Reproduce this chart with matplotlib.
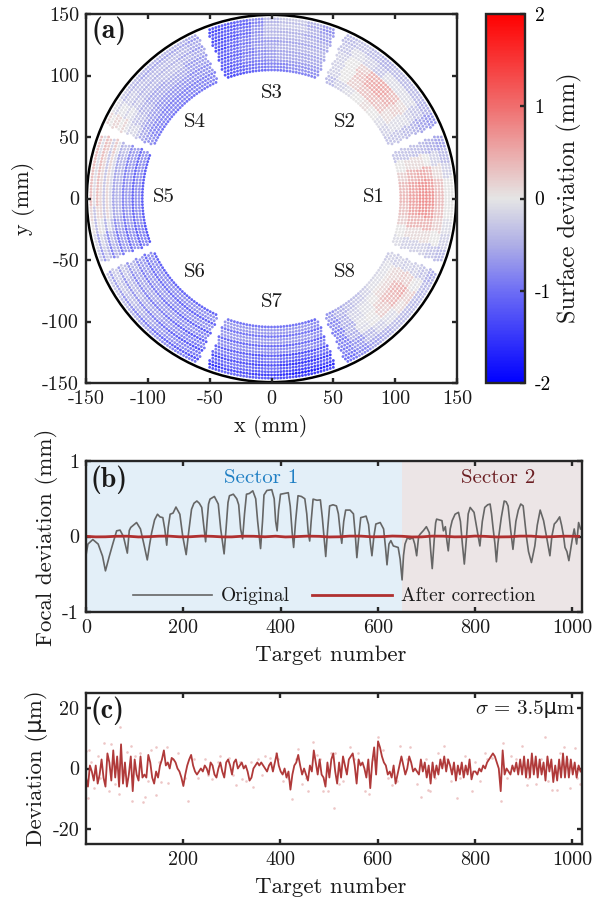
#!/usr/bin/env python3
"""Three panel figure: surface deviation map, focal deviation, residual deviation."""

import matplotlib
matplotlib.use("Agg")
import matplotlib.pyplot as plt
import numpy as np
from matplotlib.colors import LinearSegmentedColormap, Normalize
from matplotlib.cm import ScalarMappable

# panel (a): surface deviation read per sector, rows inner -> outer, columns counter-clockwise
s1 = [[-0.1, 0.0, 0.2, 0.3, 0.4, 0.35, 0.2, 0.0, -0.3],
      [-0.2, 0.1, 0.4, 0.55, 0.6, 0.55, 0.4, 0.1, -0.3],
      [-0.2, 0.1, 0.4, 0.7, 0.75, 0.7, 0.5, 0.1, -0.35],
      [-0.2, 0.1, 0.4, 0.6, 0.7, 0.6, 0.4, 0.0, -0.4],
      [-0.3, 0.0, 0.2, 0.3, 0.35, 0.3, 0.1, -0.2, -0.5],
      [-0.4, -0.2, -0.1, 0.0, 0.0, 0.0, -0.2, -0.4, -0.6]]
s2 = [[-0.3, -0.2, -0.1, 0.0, 0.1, 0.0, -0.1, -0.2, -0.4],
      [-0.3, -0.1, 0.1, 0.3, 0.35, 0.3, 0.2, 0.0, -0.2],
      [-0.4, -0.1, 0.2, 0.45, 0.55, 0.5, 0.3, 0.0, -0.2],
      [-0.5, -0.2, 0.1, 0.35, 0.5, 0.45, 0.2, 0.0, -0.2],
      [-0.6, -0.3, -0.1, -0.1, -0.1, -0.3, -0.2, -0.1, -0.3],
      [-0.7, -0.5, -0.4, -0.4, -0.4, -0.5, -0.4, -0.3, -0.4]]
s3 = [[-0.8, -0.8, -0.8, -0.9, -0.9, -1.0, -1.1, -1.2, -1.3],
      [-0.6, -0.6, -0.6, -0.6, -0.7, -0.8, -0.9, -1.1, -1.2],
      [-0.5, -0.5, -0.5, -0.5, -0.6, -0.7, -0.9, -1.1, -1.2],
      [-0.5, -0.5, -0.5, -0.5, -0.6, -0.7, -0.9, -1.1, -1.3],
      [-0.6, -0.5, -0.4, -0.4, -0.4, -0.7, -1.0, -1.2, -1.3],
      [-0.7, -0.5, -0.3, -0.3, -0.4, -0.8, -1.1, -1.2, -1.3]]
s4 = [[-0.9, -0.9, -0.9, -0.9, -0.9, -0.9, -0.9, -0.9, -0.8],
      [-0.8, -0.8, -0.8, -0.8, -0.8, -0.8, -0.7, -0.7, -0.6],
      [-0.7, -0.7, -0.6, -0.6, -0.6, -0.6, -0.5, -0.4, -0.2],
      [-0.6, -0.6, -0.4, -0.4, -0.5, -0.5, -0.4, -0.2, -0.1],
      [-0.6, -0.5, -0.4, -0.4, -0.4, -0.4, -0.3, -0.1, 0.1],
      [-0.6, -0.5, -0.5, -0.5, -0.5, -0.4, -0.3, -0.1, 0.1]]
s5 = [[-0.9, -0.9, -0.9, -0.9, -0.9, -0.9, -0.9, -1.0, -1.0],
      [-0.8, -0.8, -0.8, -0.8, -0.8, -0.8, -0.8, -0.9, -0.9],
      [-0.5, -0.6, -0.6, -0.6, -0.6, -0.6, -0.7, -0.8, -0.8],
      [-0.2, -0.3, -0.3, -0.3, -0.3, -0.3, -0.5, -0.7, -0.7],
      [0.1, 0.0, 0.0, 0.0, 0.0, 0.0, -0.2, -0.5, -0.6],
      [0.2, 0.2, 0.2, 0.2, 0.2, 0.0, -0.1, -0.3, -0.4]]
s6 = [[-0.9, -0.9, -0.9, -0.9, -0.9, -0.9, -0.9, -0.9, -0.9],
      [-0.8, -0.8, -0.8, -0.8, -0.8, -0.9, -0.9, -0.9, -0.9],
      [-0.6, -0.7, -0.7, -0.7, -0.8, -0.8, -0.9, -0.9, -1.0],
      [-0.5, -0.6, -0.6, -0.7, -0.7, -0.8, -0.9, -1.0, -1.0],
      [-0.4, -0.5, -0.5, -0.6, -0.7, -0.8, -0.9, -1.0, -1.1],
      [-0.4, -0.4, -0.5, -0.6, -0.7, -0.8, -0.9, -1.0, -1.1]]
s7 = [[-0.8, -0.8, -0.8, -0.8, -0.8, -0.8, -0.8, -0.8, -0.9],
      [-0.8, -0.8, -0.8, -0.8, -0.8, -0.8, -0.8, -0.8, -0.9],
      [-0.9, -0.9, -0.9, -0.9, -0.9, -0.9, -0.9, -0.9, -1.0],
      [-1.0, -1.0, -1.0, -1.1, -1.0, -1.1, -1.2, -1.2, -1.1],
      [-1.2, -1.1, -1.1, -1.2, -1.1, -1.3, -1.4, -1.4, -1.3],
      [-1.4, -1.2, -1.2, -1.3, -1.3, -1.4, -1.6, -1.6, -1.5]]
s8 = [[-0.7, -0.5, -0.4, -0.3, -0.2, -0.1, -0.1, -0.1, -0.2],
      [-0.8, -0.5, -0.2, -0.1, 0.0, 0.1, 0.1, 0.1, -0.2],
      [-0.9, -0.5, -0.1, 0.0, 0.2, 0.35, 0.4, 0.2, -0.2],
      [-0.9, -0.5, -0.1, 0.0, 0.2, 0.4, 0.5, 0.2, -0.2],
      [-0.9, -0.7, -0.4, -0.2, -0.1, 0.1, 0.2, 0.0, -0.3],
      [-1.0, -0.8, -0.6, -0.5, -0.4, -0.4, -0.4, -0.4, -0.5]]
sector_tables = [s1, s2, s3, s4, s5, s6, s7, s8]
sector_angles = [0, 45, 90, 135, 180, 225, 270, 315]
sector_stripes = [0.0, 0.0, 0.08, 0.1, 0.3, 0.25, 0.2, 0.05]
sector_names = ["S1", "S2", "S3", "S4", "S5", "S6", "S7", "S8"]
name_x = [83, 59, 0, -62, -87, -62, 0, 59]
name_y = [1, 62, 86, 62, 1, -60, -84, -60]

# panel (b): original focal deviation
orig_x = [0, 4, 14, 25, 34, 40, 48, 55, 63, 70, 77, 85, 89, 92, 104, 112, 119, 126, 131, 135,
          141, 147, 152, 158, 162, 166, 169, 173, 179, 185, 193, 199, 206, 211, 217, 222, 228, 233, 238, 242,
          246, 249, 252, 255, 264, 272, 277, 284, 288, 292, 295, 303, 310, 314, 318, 322, 326, 330, 336, 343,
          349, 353, 359, 363, 366, 372, 382, 387, 390, 393, 396, 400, 408, 416, 420, 424, 427, 431, 436, 443,
          450, 454, 457, 460, 463, 467, 475, 482, 486, 490, 493, 497, 501, 508, 515, 519, 523, 526, 530, 534,
          543, 550, 554, 557, 561, 565, 571, 576, 581, 585, 588, 592, 596, 605, 612, 616, 619, 623, 627, 632,
          642, 646, 650, 653, 656, 661, 666, 672, 676, 680, 684, 687, 694, 700, 706, 709, 712, 716, 719, 721,
          732, 735, 739, 742, 745, 749, 753, 759, 766, 770, 774, 778, 782, 786, 790, 798, 804, 810, 815, 820,
          826, 831, 834, 837, 841, 844, 847, 849, 854, 860, 864, 868, 873, 878, 884, 889, 894, 899, 906, 910,
          916, 919, 923, 928, 934, 941, 947, 954, 958, 963, 968, 974, 978, 982, 985, 989, 993, 1000, 1004, 1009,
          1013, 1017]
orig_y = [-.25, -.10, -.04, -.10, -.26, -.455, -.26, -.10, .075, .085, 0, -.22, .08, .12, .185, .10, -.1, -.31, -.1, .05,
          .22, .295, .26, .25, .1, -.115, .12, .295, .31, .39, .295, 0, -.24, .05, .36, .44, .47, .44, .385, .15,
          -.07, .2, .43, .495, .53, .43, .1, -.23, .1, .45, .54, .56, .5, .42, .1, -.03, .3, .56, .57, .605,
          .5, .2, -.16, .2, .55, .61, .62, .5, .2, .075, .35, .56, .57, .58, .4, .05, -.145, .2, .54, .53,
          .5, .3, .05, -.06, .2, .495, .48, .485, .25, -.05, -.265, .1, .405, .42, .405, .3, .05, -.09, .2, .35,
          .35, .3, 0, -.28, 0, .25, .26, .27, .16, -.1, -.255, 0, .165, .185, .1, -.15, -.375, -.1, -.055, -.125,
          -.145, -.3, -.575, -.25, -.1, -.015, -.035, -.015, -.1, -.255, 0, .03, .08, .13, .05, -.2, -.425, -.05, .18, .23,
          .21, .075, .13, -.05, -.19, .1, .21, .295, .32, .2, -.1, -.365, -.05, .3, .385, .32, .1, -.125, .2, .385,
          .42, .43, .3, .12, -.1, -.335, -.1, .01, .25, .47, .46, .405, .1, -.17, .2, .35, .43, .405, -.015, -.2,
          -.345, -.25, -.125, .15, .35, .21, 0, -.255, 0, .165, .2, .26, .15, .01, -.145, -.2, -.32, -.035, .1, -.1,
          .185, .1]
# panel (b): after correction
corr_x = [0, 20, 40, 62, 85, 108, 130, 150, 170, 192, 215, 238, 260, 280, 300, 322, 345, 368, 390, 410, 430, 455,
          480, 500, 520, 542, 565, 588, 610, 630, 650, 670, 690, 712, 735, 758, 780, 800, 820, 845, 870, 892, 915, 938, 960, 985, 1013]
corr_y = [.002, -.005, -.004, .003, .004, -.006, -.002, .004, .005, -.004, -.003, .006, .002, -.005, -.005, .004, .003, -.004, .004, -.006, -.002, .005,
          .002, -.006, -.004, .005, .005, -.004, -.002, .006, .003, -.006, -.005, .005, .004, -.005, -.003, .006, .002, -.006, -.004, .005, .005, -.005, -.002, .004, .002]

# panel (c): deviation after correction, one reading every four targets from target 1
dev_target = list(range(1, 1021, 4))
dev_um = [-3, -6, 1, -1, -4, 1, -5, -2, 3, -3,
          -6, 5, 2, -4, 6, -3, 4, -6, 8, -5,
          2, -6, -2, 4, -7.5, 3, -2, -4, 4, -3,
          -2, -3, 4.5, 2, -3, -5, -1, -3, 1, 3,
          6, 1, 2, 0, 3.5, 3, 2, 0, -1, -3,
          -5.8, -2, 1, 3, 4.5, 1, -1, -2, -1, 0,
          -1, 1, 0, -2, 2, 1, -2, -3, 0, 2,
          -1, -3, 2, 3, 1, -2, 2, 3, 0, 1,
          2, 0, 1, -1, -4, -3, 0, 1, 2, 1,
          2, 1, 0, -1, 1, 2, -1, 2, 5, 1,
          -1, -2, 0, -3, -1, -7, -2, 1, 2, 4.5,
          1, -2, 0, -2, -4, 1, -1, 6, 2, -2,
          3, -2, -3, -6, 2, -3, 3, 5, -1, -5,
          2, -3, 4, 1, -2, 3, 4, 5, 1, -5,
          3, 1, 2, 0, -3, 3, -6.5, 2, 7, -2,
          9, 7, 4, 2, 1, -2, -1, -3, 1, -5,
          -2, 1, 4, 1, -2, 0, 4, 2, -1, 0,
          -1, -2, 3, -1, 2, -3, 1, -5, 2, -3,
          1, -2, 3, 0, 4, -1, 3, 1, -2, 2,
          -4, 1, -2, 2, -3, 1, -2, 3, -3.6, -1,
          -1, -2, 0, -1, 1, 0, 2, 3, 4, 5,
          4, 2, 0, -7.5, 6, -2, 0, -1, -2, 1,
          -1, 2, -2, 3, -2, 4, -3, 3, -3, 5,
          -2, 4, -3, 3, -2, 2, -4, 4, -1, 3,
          -4.5, 1, -4, 3, -3, 5, -3, 4, -3, 3,
          -2, 2, -3, 1, -1]
raw_x = [1, 7, 5, 18, 39, 53, 48, 70, 68, 94, 96, 111, 118, 123, 144, 144, 167, 170, 211, 231,
         276, 310, 322, 344, 368, 391, 425, 437, 457, 467, 488, 510, 499, 505, 512, 543, 574, 583, 601, 647,
         629, 666, 689, 707, 703, 736, 763, 793, 820, 857, 854, 896, 943, 968, 958, 984, 996, 1006, 906,
         25, 60, 85, 135, 155, 190, 245, 260, 295, 330, 355, 380, 405, 445, 475, 520, 560, 612, 680, 725,
         750, 780, 810, 835, 875, 925, 975, 1015,
         12, 30, 44, 76, 102, 128, 150, 178, 205, 222, 252, 272, 302, 318, 340, 362, 396, 415, 432, 452,
         482, 530, 552, 590, 622, 640, 660, 700, 718, 742, 770, 800, 825, 865, 885, 910, 935, 950, 990, 1010]
raw_y = [5.7, 6, -9.7, -6.4, 8.5, 8, -7.3, 13.7, -8.6, 7.4, -10.8, 5.2, -11, -9.5, 7, -8.8, 7.2, -4.8, -10.7, -3,
         4, -5.3, -3.6, -6, 4, 5, -10, 6.3, -7.5, 8.8, -7.3, -13.2, -7.3, 5, 5, 7, -7.3, -8.3, 10.4, 7.4,
         -5.6, 7, -9.5, -7.3, -7, 7.4, -9.7, -7.5, 5, 8.5, -10.8, 7.4, 10.4, -7, -7, 7, -6.4, 6.8, -5.3,
         4, -5, 5.5, 6, -4.5, 5, 3, -3.5, 3.5, -4, 3, 3.5, -4, -5, 4.5, -5, 5, 6, -5, 5,
         -4, 4, -4, 3.5, 4, -5, 5, -5,
         2, -3, 3, -2, 4, -4, 2, 3, -3, 3, -2, 2, -2, 2, 2, -2, 3, -3, 3, -3,
         3, -4, 3, 3, -3, -4, 3, 3, -3, 3, -3, 2, 3, -3, 3, -3, 3, -4, 3, -3]

PX = 0.01  # figure is 6.07 x 9.01 in at dpi 100
FW, FH = 607, 901
FRAME = "#262626"
TEXT = "#1a1a1a"

plt.rcParams["font.family"] = ["cmr10", "DejaVu Sans"]
plt.rcParams["mathtext.fontset"] = "cm"
plt.rcParams["axes.formatter.use_mathtext"] = True
plt.rcParams["text.color"] = TEXT
plt.rcParams["axes.unicode_minus"] = False


def add_axes(fig, left, top, right, bottom):
    return fig.add_axes([left / FW, 1 - bottom / FH, (right - left) / FW, (bottom - top) / FH])


def style(ax):
    for sp in ax.spines.values():
        sp.set_linewidth(1.7)
        sp.set_color(FRAME)
    ax.tick_params(direction="in", length=3.5, width=1.7, color=FRAME, labelsize=14.5,
                   top=True, right=True, pad=5, labelcolor=TEXT)


def sector_points(table, centre, stripe):
    """Dots on a local grid: constant offset across the sector, concentric arcs along it."""
    table = np.array(table)
    xs, ys, vals = [], [], []
    half = 21.0
    for i, r in enumerate(np.arange(104.5, 146.5, 2.6)):
        for u in np.arange(-60, 60.1, 2.5):
            if abs(u) >= r:
                continue
            ang = np.degrees(np.arcsin(u / r))
            if abs(ang) > half:
                continue
            row = min(int((r - 104.5) / 42 * table.shape[0]), table.shape[0] - 1)
            col = min(int((ang + half) / (2 * half) * table.shape[1]), table.shape[1] - 1)
            v = table[row, col] + (-stripe if i % 3 == 0 else stripe / 2)
            c = np.radians(centre)
            lx, ly = np.sqrt(r * r - u * u), u
            xs.append(lx * np.cos(c) - ly * np.sin(c))
            ys.append(lx * np.sin(c) + ly * np.cos(c))
            vals.append(v)
    return xs, ys, vals


fig = plt.figure(figsize=(FW * PX, FH * PX), dpi=100)

cmap = LinearSegmentedColormap.from_list("dev", [
    (0.0, "#0000ff"), (0.25, "#6e6ef5"), (0.375, "#aeaee6"), (0.5, "#e5e5e5"),
    (0.625, "#ebaaaa"), (0.75, "#f06e6e"), (1.0, "#ff0000")])
norm = Normalize(-2, 2)

# panel (a)
ax = add_axes(fig, 86, 14, 457, 383)
for table, centre, stripe in zip(sector_tables, sector_angles, sector_stripes):
    xs, ys, vals = sector_points(table, centre, stripe)
    ax.scatter(xs, ys, c=vals, cmap=cmap, norm=norm, s=4.2, linewidths=0, alpha=0.95)
ax.add_patch(plt.Circle((0, 0), 149.3, fill=False, color="black", lw=1.8))
for name, x, y in zip(sector_names, name_x, name_y):
    ax.text(x, y, name, ha="center", va="center", fontsize=15)
ax.set_xlim(-150, 150)
ax.set_ylim(-150, 150)
ticks = [-150, -100, -50, 0, 50, 100, 150]
ax.set_xticks(ticks, [str(t) for t in ticks])
ax.set_yticks(ticks, [str(t) for t in ticks])
style(ax)
ax.text(0.0135, 0.955, "(a)", transform=ax.transAxes, family="cmb10", fontsize=20, va="center")
fig.text(271 / FW, 1 - 426 / FH, "x (mm)", ha="center", va="center", fontsize=16)
fig.text(24 / FW, 1 - 198 / FH, "y (mm)", ha="center", va="center", rotation=90, fontsize=16)

# colour bar
cax = add_axes(fig, 486, 14, 525, 383)
cb = fig.colorbar(ScalarMappable(norm=norm, cmap=cmap), cax=cax)
cb.set_ticks([-2, -1, 0, 1, 2], labels=["-2", "-1", "0", "1", "2"])
cb.ax.tick_params(direction="in", length=3.5, width=1.7, color=FRAME, labelsize=14, pad=7)
cb.outline.set_linewidth(1.7)
cb.outline.set_edgecolor(FRAME)
fig.text(569 / FW, 1 - 198 / FH, "Surface deviation (mm)", ha="center", va="center", rotation=90, fontsize=17.5)

# panel (b)
ax = add_axes(fig, 86, 461, 582, 612)
ax.axvspan(0, 650, color="#e3eff8", lw=0)
ax.axvspan(650, 1020, color="#ece5e6", lw=0)
ax.plot(orig_x, orig_y, color="#666666", lw=1.2, label="Original")
ax.plot(corr_x, corr_y, color="#b03030", lw=2.0, label="After correction")
ax.set_xlim(0, 1020)
ax.set_ylim(-1, 1)
ax.set_xticks([0, 200, 400, 600, 800, 1000], ["0", "200", "400", "600", "800", "1000"])
ax.set_yticks([-1, 0, 1], ["-1", "0", "1"])
style(ax)
ax.text(0.01, 0.875, "(b)", transform=ax.transAxes, family="cmb10", fontsize=20, va="center")
ax.text(360, 0.77, "Sector 1", ha="center", va="center", color="#1f7fc4", fontsize=15)
ax.text(847, 0.77, "Sector 2", ha="center", va="center", color="#6b1e22", fontsize=15)
ax.legend(loc="lower center", bbox_to_anchor=(0.5, -0.072), ncol=2, frameon=False, fontsize=14,
          handlelength=4.1, columnspacing=1.15, handletextpad=0.45)
fig.text(331 / FW, 1 - 655 / FH, "Target number", ha="center", va="center", fontsize=16.5)
fig.text(47 / FW, 1 - 537 / FH, "Focal deviation (mm)", ha="center", va="center", rotation=90, fontsize=16.5)

# panel (c)
ax = add_axes(fig, 86, 693, 582, 844)
ax.scatter(raw_x, raw_y, s=3.5, color="#e9b8b8", linewidths=0, alpha=0.8)
ax.plot(dev_target, dev_um, color="#b03a3a", lw=1.3)
ax.set_xlim(1, 1020)
ax.set_ylim(-25, 25)
ax.set_xticks([200, 400, 600, 800, 1000], ["200", "400", "600", "800", "1000"])
ax.set_yticks([-20, 0, 20], ["-20", "0", "20"])
style(ax)
ax.text(0.01, 0.88, "(c)", transform=ax.transAxes, family="cmb10", fontsize=20, va="center")
ax.text(0.985, 0.895, "= 3.5μm", transform=ax.transAxes, ha="right", va="center", fontsize=15)
ax.text(0.785, 0.89, r"$\sigma$", transform=ax.transAxes, ha="left", va="center", fontsize=15)
fig.text(331 / FW, 1 - 887 / FH, "Target number", ha="center", va="center", fontsize=16.5)
fig.text(37 / FW, 1 - 768 / FH, "Deviation (μm)", ha="center", va="center", rotation=90, fontsize=16.5)

fig.savefig("out.png", dpi=100)
